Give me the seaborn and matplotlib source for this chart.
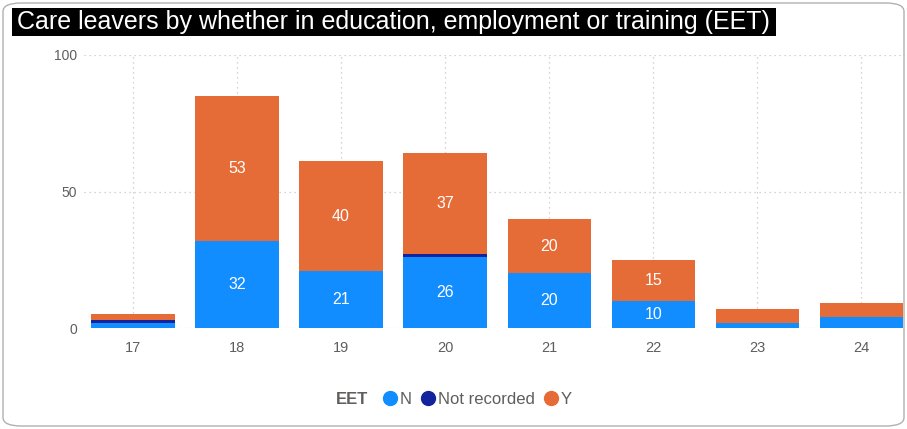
import matplotlib
matplotlib.use("Agg")
import matplotlib.pyplot as plt
import seaborn as sns
import numpy as np
from matplotlib.patches import FancyBboxPatch, Rectangle
from matplotlib.lines import Line2D
from matplotlib.offsetbox import HPacker

# data
ages = ["17", "18", "19", "20", "21", "22", "23", "24"]
eet_n = [2, 32, 21, 26, 20, 10, 2, 4]
eet_not_recorded = [1, 0, 0, 1, 0, 0, 0, 0]
eet_y = [2, 53, 40, 37, 20, 15, 5, 5]
label_min = 8  # segments smaller than this get no label

colors = {"N": "#118DFF", "Not recorded": "#12239E", "Y": "#E66C37"}
grey = "#605E5C"

sns.set_style("white")
plt.rcParams["font.family"] = ["Liberation Sans", "DejaVu Sans"]

fig = plt.figure(figsize=(9.07, 4.29), dpi=100)
W, H = 907, 429
ax = fig.add_axes([84 / W, 1 - 328 / H, (905 - 84) / W, (328 - 55) / H])

n = np.array(eet_n)
nr = np.array(eet_not_recorded)
y = np.array(eet_y)

sns.barplot(x=ages, y=n, color=colors["N"], width=0.8, ax=ax, saturation=1, linewidth=0)
sns.barplot(x=ages, y=nr, bottom=n, color=colors["Not recorded"], width=0.8, ax=ax,
            saturation=1, linewidth=0)
sns.barplot(x=ages, y=y, bottom=n + nr, color=colors["Y"], width=0.8, ax=ax,
            saturation=1, linewidth=0)

for cont, vals in zip(ax.containers, [n, nr, y]):
    labels = [str(v) if v >= label_min else "" for v in vals]
    ax.bar_label(cont, labels=labels, label_type="center", color="white", fontsize=11.5)

ax.set_ylim(0, 100)
ax.set_xlim(-0.47, 7.42)
ax.set_yticks([0, 50, 100])
for v in [0, 50, 100]:
    ax.axhline(v, color="#C8C6C4", linestyle=(0, (1, 3)), linewidth=0.9, zorder=0)
for i in range(len(ages)):
    ax.axvline(i, color="#C8C6C4", linestyle=(0, (1, 3)), linewidth=0.9, zorder=0)
ax.set_axisbelow(True)
for s in ax.spines.values():
    s.set_visible(False)
ax.tick_params(axis="both", length=0, colors=grey)
ax.tick_params(axis="x", pad=9, labelsize=10.5)
ax.tick_params(axis="y", pad=5, labelsize=10)
ax.set_xlabel("")
ax.set_ylabel("")

# outer rounded frame
fig.patches.append(FancyBboxPatch((3 / W, 3 / H), (W - 6) / W, (H - 6) / H,
                                  boxstyle="round,pad=0,rounding_size=0.02",
                                  transform=fig.transFigure, facecolor="none",
                                  edgecolor="#B3B0AD", linewidth=1.0))

# title bar
fig.patches.append(Rectangle((12 / W, 1 - 36 / H), (776 - 12) / W, 28 / H,
                             transform=fig.transFigure, facecolor="black",
                             edgecolor="none"))
fig.text(17 / W, 1 - 22 / H, "Care leavers by whether in education, employment or training (EET)",
         color="white", fontsize=18, va="center", ha="left",
         family=["Liberation Sans Narrow", "Liberation Sans", "DejaVu Sans"])

# legend
handles = [Line2D([], [], marker="o", linestyle="", color=c, markersize=10) for c in colors.values()]
leg = fig.legend(handles, list(colors.keys()), loc="center", bbox_to_anchor=(454 / W, 1 - 399 / H),
                 ncol=3, frameon=False, handlelength=0.9, handletextpad=0.15, columnspacing=0.5,
                 fontsize=12, title="EET")
leg.get_title().set_fontweight("bold")
leg.get_title().set_color(grey)
leg.get_title().set_fontsize(12)
for t in leg.get_texts():
    t.set_color(grey)
# put title inline with entries
box = leg._legend_box
box._children = [HPacker(children=box._children, align="center", pad=0, sep=10)]

fig.savefig("out.png", dpi=100)
